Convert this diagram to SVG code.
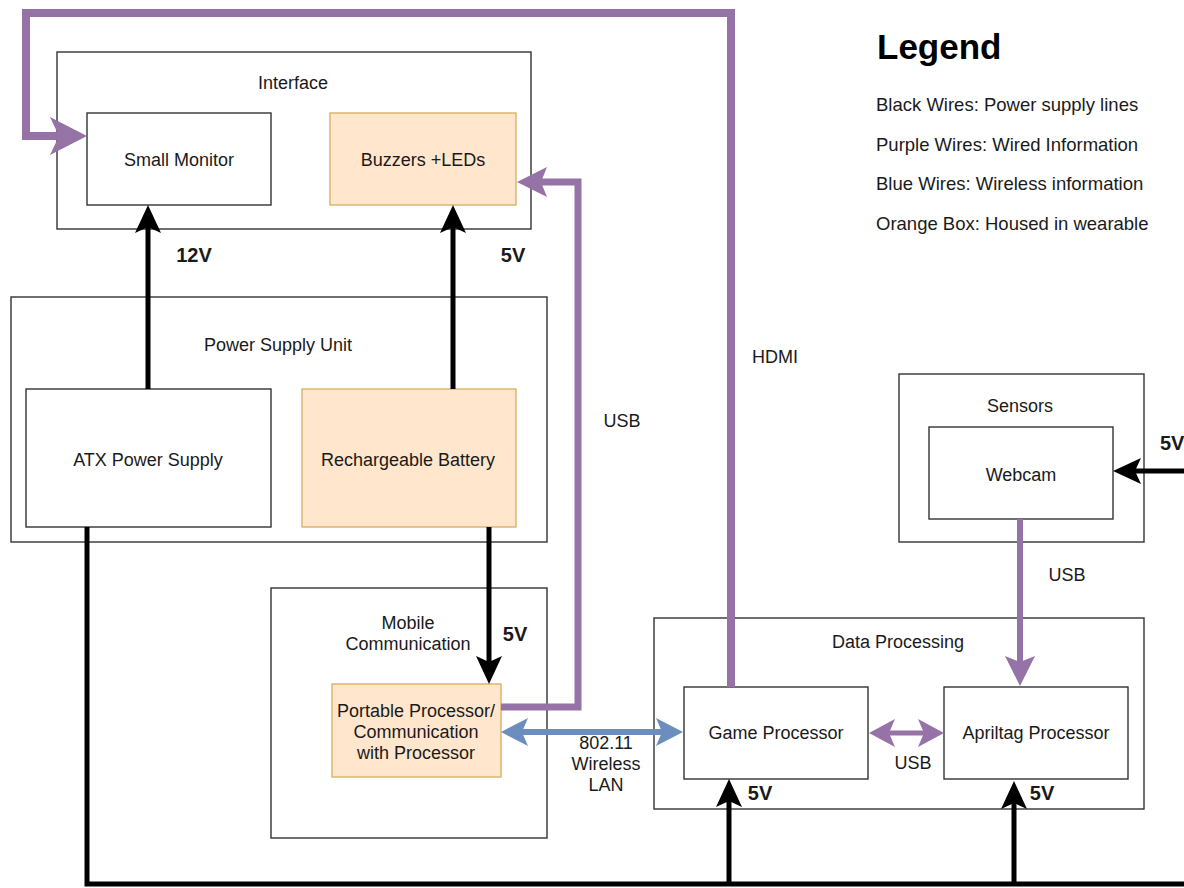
<svg xmlns="http://www.w3.org/2000/svg" width="1184" height="888" viewBox="0 0 1184 888">
<style>
text{font-family:"Liberation Sans",Arial,Helvetica,sans-serif;fill:#1a1a1a;}
.t{font-size:18px;text-anchor:middle;dominant-baseline:central;}
.v{font-size:20px;font-weight:bold;text-anchor:middle;dominant-baseline:central;}
.lg{font-size:18.5px;}
.box{fill:#fff;stroke:#333;stroke-width:1.4;}
.org{fill:#ffe6cc;stroke:#d9b36a;stroke-width:1.4;}
.pw{fill:none;stroke:#000;stroke-width:5;}
.pu{fill:none;stroke:#9673a6;}
.bl{fill:none;stroke:#6c8ebf;stroke-width:6;}
</style>
<defs>
<marker id="ab" markerUnits="userSpaceOnUse" orient="auto-start-reverse" refX="6" refY="0" markerWidth="30" markerHeight="30" overflow="visible">
<path d="M28,0 L0,-13 L6,0 L0,13 Z" fill="#000"/>
</marker>
<marker id="apB" markerUnits="userSpaceOnUse" orient="auto-start-reverse" refX="9" refY="0" markerWidth="40" markerHeight="40" overflow="visible">
<path d="M37,0 L0,-19 L9,0 L0,19 Z" fill="#9673a6"/>
</marker>
<marker id="ap" markerUnits="userSpaceOnUse" orient="auto-start-reverse" refX="6" refY="0" markerWidth="32" markerHeight="32" overflow="visible">
<path d="M30,0 L0,-15 L6,0 L0,15 Z" fill="#9673a6"/>
</marker>
<marker id="aps" markerUnits="userSpaceOnUse" orient="auto-start-reverse" refX="6" refY="0" markerWidth="30" markerHeight="30" overflow="visible">
<path d="M26,0 L0,-14 L6,0 L0,14 Z" fill="#9673a6"/>
</marker>
<marker id="abl" markerUnits="userSpaceOnUse" orient="auto-start-reverse" refX="6" refY="0" markerWidth="30" markerHeight="30" overflow="visible">
<path d="M27,0 L0,-14 L6,0 L0,14 Z" fill="#6c8ebf"/>
</marker>
</defs>
<rect width="1184" height="888" fill="#fff"/>

<g id="interface">
<rect class="box" x="57" y="52" width="474" height="177"/>
<text class="t" x="293" y="83">Interface</text>
</g>
<g id="small-monitor">
<rect class="box" x="87" y="113" width="184" height="92"/>
<text class="t" x="179" y="160">Small Monitor</text>
</g>
<g id="buzzers">
<rect class="org" x="330" y="113" width="186" height="92"/>
<text class="t" x="423" y="160">Buzzers +LEDs</text>
</g>

<g id="power-supply-unit">
<rect class="box" x="11" y="297" width="536" height="245"/>
<text class="t" x="278" y="345">Power Supply Unit</text>
</g>
<g id="atx">
<rect class="box" x="26" y="389" width="245" height="138"/>
<text class="t" x="148" y="460">ATX Power Supply</text>
</g>
<g id="battery">
<rect class="org" x="302" y="389" width="214" height="138"/>
<text class="t" x="408" y="460">Rechargeable Battery</text>
</g>

<g id="mobile-communication">
<rect class="box" x="271" y="588" width="276" height="250"/>
<text class="t" x="408" y="623">Mobile</text>
<text class="t" x="408" y="644">Communication</text>
</g>
<g id="portable-processor">
<rect class="org" x="332" y="684" width="169" height="93"/>
<text class="t" x="416" y="711">Portable Processor/</text>
<text class="t" x="416" y="732">Communication</text>
<text class="t" x="416" y="753">with Processor</text>
</g>

<g id="data-processing">
<rect class="box" x="654" y="618" width="490" height="191"/>
<text class="t" x="898" y="642">Data Processing</text>
</g>
<g id="game-processor">
<rect class="box" x="684" y="687" width="184" height="92"/>
<text class="t" x="776" y="733">Game Processor</text>
</g>
<g id="apriltag-processor">
<rect class="box" x="944" y="687" width="184" height="92"/>
<text class="t" x="1036" y="733">Apriltag Processor</text>
</g>

<g id="sensors">
<rect class="box" x="899" y="374" width="245" height="168"/>
<text class="t" x="1020" y="406">Sensors</text>
</g>
<g id="webcam">
<rect class="box" x="929" y="427" width="184" height="92"/>
<text class="t" x="1021" y="475">Webcam</text>
</g>

<g id="legend">
<text x="877" y="59" style="font-size:35px;font-weight:bold;fill:#000">Legend</text>
<text class="lg" x="876" y="111">Black Wires: Power supply lines</text>
<text class="lg" x="876" y="151">Purple Wires: Wired Information</text>
<text class="lg" x="876" y="190">Blue Wires: Wireless information</text>
<text class="lg" x="876" y="230">Orange Box: Housed in wearable</text>
</g>

<g id="connectors">
<path class="pw" d="M87,527 V884 H1184"/>
<path class="pw" d="M148,389 V227" marker-end="url(#ab)"/>
<path class="pw" d="M453,389 V227" marker-end="url(#ab)"/>
<path class="pw" d="M489,527 V662" marker-end="url(#ab)"/>
<path class="pw" d="M729,884 V801" marker-end="url(#ab)"/>
<path class="pw" d="M1014,884 V803" marker-end="url(#ab)"/>
<path class="pw" d="M1184,471 H1135" marker-end="url(#ab)"/>

<path class="pu" stroke-width="8" d="M731,687 V13 H26 V136 H59" marker-end="url(#apB)"/>
<path class="pu" stroke-width="7" d="M501,707 H578 V182 H541" marker-end="url(#ap)"/>
<path class="pu" stroke-width="6" d="M1020,519 V662" marker-end="url(#ap)"/>
<path class="pu" stroke-width="5" d="M889,733 H924" marker-start="url(#aps)" marker-end="url(#aps)"/>

<path class="bl" d="M522,732 H662" marker-start="url(#abl)" marker-end="url(#abl)"/>

<text class="v" x="194" y="255">12V</text>
<text class="v" x="513" y="255">5V</text>
<text class="v" x="515" y="634">5V</text>
<text class="v" x="760" y="793">5V</text>
<text class="v" x="1042" y="793">5V</text>
<text class="v" x="1160" y="443" style="text-anchor:start">5V</text>
<text class="t" x="622" y="421">USB</text>
<text class="t" x="775" y="357">HDMI</text>
<text class="t" x="1067" y="575">USB</text>
<text class="t" x="913" y="763">USB</text>
<text class="t" x="606" y="743">802.11</text>
<text class="t" x="606" y="764">Wireless</text>
<text class="t" x="606" y="785">LAN</text>
</g>
</svg>
